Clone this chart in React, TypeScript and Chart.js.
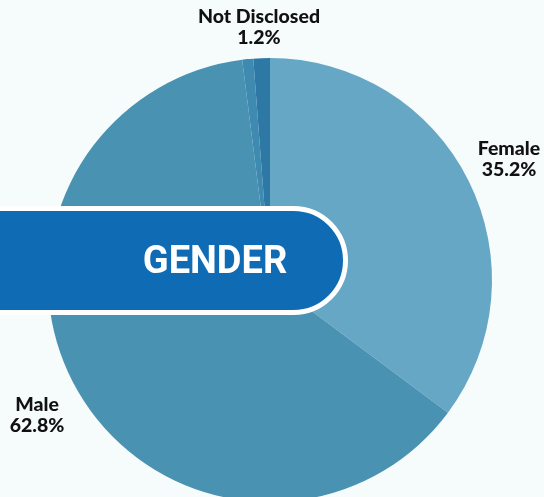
import React, { useEffect, useRef } from "react";
import { Chart, registerables } from "chart.js";

Chart.register(...registerables);

const categories = ["Female", "Male", "Other", "Not Disclosed"];
const shares = [35.2, 62.8, 0.8, 1.2];
const sliceColors = ["#65a7c5", "#4a92b2", "#3e8ab0", "#2e78a6"];
const title = "GENDER";

const labelFont = "Lato, 'DejaVu Sans', sans-serif";

export default function App() {
  const ref = useRef<HTMLCanvasElement | null>(null);

  useEffect(() => {
    document.body.style.margin = "0";
    const chart = new Chart(ref.current as HTMLCanvasElement, {
      type: "pie",
      data: {
        labels: categories,
        datasets: [
          {
            data: shares,
            backgroundColor: sliceColors,
            borderWidth: 0,
          },
        ],
      },
      options: {
        animation: false,
        responsive: false,
        devicePixelRatio: 1,
        layout: { padding: { top: 58, bottom: 8, left: 48, right: 52 } },
        plugins: { legend: { display: false }, tooltip: { enabled: false } },
      },
    });
    return () => chart.destroy();
  }, []);

  const labelStyle: React.CSSProperties = {
    position: "absolute",
    fontFamily: labelFont,
    fontWeight: 900,
    fontSize: 19.5,
    lineHeight: "21px",
    color: "#111",
    textAlign: "center",
    whiteSpace: "nowrap",
  };

  return (
    <div
      style={{
        position: "fixed",
        left: 0,
        top: 0,
        width: 544,
        height: 497,
        overflow: "hidden",
        background: "#f6fbfc",
      }}
    >
      <canvas ref={ref} width={544} height={510} style={{ position: "absolute", left: 0, top: 0 }} />
      <div
        style={{
          position: "absolute",
          left: -60,
          top: 206,
          width: 398,
          height: 99,
          background: "#106bb5",
          border: "5px solid #ffffff",
          borderRadius: "0 55px 55px 0",
        }}
      >
        <div
          style={{
            position: "absolute",
            left: 170,
            top: 0,
            width: 200,
            textAlign: "center",
            lineHeight: "99px",
            fontFamily: "Roboto, sans-serif",
            fontWeight: 700,
            fontSize: 38,
            color: "#ffffff",
          }}
        >
          {title}
        </div>
      </div>
      <div style={{ ...labelStyle, left: 159, top: 5, width: 200 }}>
        {categories[3]}
        <br />
        {shares[3]}%
      </div>
      <div style={{ ...labelStyle, left: 459, top: 137, width: 100 }}>
        {categories[0]}
        <br />
        {shares[0]}%
      </div>
      <div style={{ ...labelStyle, left: -13, top: 393, width: 100 }}>
        {categories[1]}
        <br />
        {shares[1]}%
      </div>
    </div>
  );
}
